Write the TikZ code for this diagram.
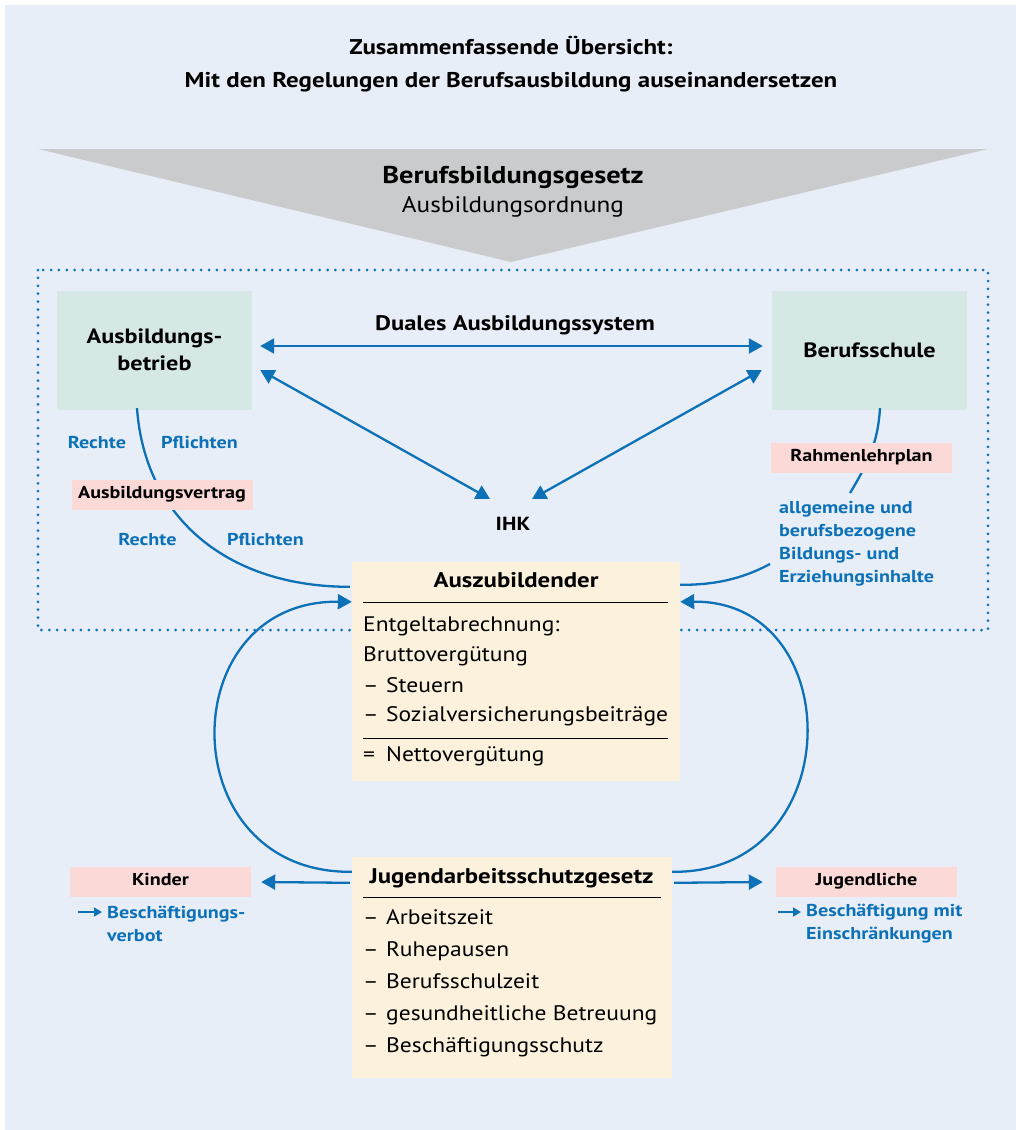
\documentclass[tikz,border=0pt]{standalone}
\usepackage{fontspec}
\setmainfont{PT Sans}[UprightFeatures={FakeStretch=1.12}, BoldFeatures={FakeStretch=1.17}]
\usetikzlibrary{arrows.meta}
\definecolor{bg}{HTML}{E8EEF8}
\definecolor{blu}{HTML}{0C71B7}
\definecolor{pinkbox}{HTML}{FAD9D7}
\definecolor{tealbox}{HTML}{D5E8E6}
\definecolor{creambox}{HTML}{FBF1DC}
\definecolor{funnel}{HTML}{CACBCD}
\begin{document}
\begin{tikzpicture}[x=1pt,y=-1pt,
  conn/.style={draw=blu, line width=2.3pt},
  arr/.style={conn,-{Triangle[length=14pt,width=15pt]}},
  darr/.style={conn,{Triangle[length=14pt,width=15pt]}-{Triangle[length=14pt,width=15pt]}},
  tealnode/.style={fill=tealbox, minimum width=195pt, minimum height=119pt, inner sep=0pt, align=center, font=\fontsize{20.7}{27}\selectfont\bfseries},
  pinknode/.style={fill=pinkbox, minimum width=181pt, minimum height=30pt, inner sep=0pt, text height=0.7em, text depth=0pt, font=\fontsize{17.2}{20}\selectfont\bfseries},
  creamnode/.style={fill=creambox, inner sep=0pt},
  bluelabel/.style={text=blu, font=\fontsize{17.2}{23}\selectfont\bfseries, inner sep=0pt, text height=0.7em, text depth=0pt},
  bluetext/.style={text=blu, font=\fontsize{17.2}{23}\selectfont\bfseries, inner sep=0pt, align=left, anchor=west},
  body/.style={font=\fontsize{21}{24}\selectfont, inner sep=0pt, anchor=west, text height=0.7em, text depth=0pt},
  boxtitle/.style={font=\fontsize{21.2}{24}\selectfont\bfseries, inner sep=0pt, text height=0.7em, text depth=0pt},
  rulestyle/.style={draw=black, line width=1pt},
  smallarr/.style={draw=blu, line width=1.6pt, -{Triangle[length=8pt,width=9pt]}},
  ]
\useasboundingbox (0,0) rectangle (1016,1130);
\fill[bg] (5,5) rectangle (1016,1130);

% title
\node[font=\fontsize{21.3}{33}\selectfont\bfseries, align=center] (title) at (511,64)
  {Zusammenfassende Übersicht:\\Mit den Regelungen der Berufsausbildung auseinandersetzen};

% funnel
\fill[funnel] (38,149) -- (988,149) -- (511,262) -- cycle;
\node[font=\fontsize{24.3}{26}\selectfont\bfseries, inner sep=0pt, text height=0.7em, text depth=0pt] (bbig) at (513,180) {Berufsbildungsgesetz};
\node[font=\fontsize{22.5}{26}\selectfont, inner sep=0pt, text height=0.7em, text depth=0pt] (ao) at (513,209) {Ausbildungsordnung};

% dotted frame
\draw[blu, line width=3pt, line cap=round, dash pattern=on 0pt off 7.9pt] (38,270) rectangle (988,630);

% main boxes
\node[tealnode] (betrieb) at (154.5,350) {Ausbildungs-\\betrieb};
\node[tealnode] (schule) at (869.5,350) {Berufsschule};
\node[boxtitle, font=\fontsize{19}{24}\selectfont\bfseries] (ihk) at (513,527) {IHK};

% Auszubildender box
\node[creamnode, minimum width=328pt, minimum height=219pt] (azubi) at (516,671.5) {};
% Jugendarbeitsschutzgesetz box
\node[creamnode, minimum width=320pt, minimum height=221pt] (jug) at (512,967.5) {};

% connectors top
\node[boxtitle, font=\fontsize{21}{24}\selectfont\bfseries] (duales) at (515,327) {Duales Ausbildungssystem};
\draw[darr] ([shift={(8,-4)}]betrieb.east) -- ([shift={(-9,-4)}]schule.west);
\draw[darr] ([shift={(8,20)}]betrieb.east) -- ([shift={(-23,-28)}]ihk.center);
\draw[darr] ([shift={(-10,20)}]schule.west) -- ([shift={(19,-28)}]ihk.center);

% Ausbildungsvertrag
\draw[conn] ([shift={(-17.5,-1.5)}]betrieb.south) .. controls (145,520) and (230,587) .. ([shift={(-2,25)}]azubi.north west);
\node[pinknode] (vertrag) at (162,494.5) {Ausbildungsvertrag};
\node[bluelabel] (r1) at (97,445) {Rechte};
\node[bluelabel] (p1) at (199.5,445) {Pflichten};
\node[bluelabel] (r2) at (147.5,542) {Rechte};
\node[bluelabel] (p2) at (265.5,542) {Pflichten};

% Rahmenlehrplan
\coordinate (rlpend) at (850,493);
\draw[conn] ([shift={(10.5,-1.5)}]schule.south) .. controls (878,440) and (870,460) .. (rlpend);
\node[pinknode] (rlp) at (861.5,458) {Rahmenlehrplan};
\node[bluetext] (inhalte) at (779,543.5) {allgemeine und\\berufsbezogene\\Bildungs- und\\Erziehungsinhalte};
\coordinate (inhend) at (770,564);
\draw[conn] (inhend) .. controls (740,580) and (712,585) .. ([shift={(0,23)}]azubi.north east);

% Auszubildender contents
\node[boxtitle] (azt) at (516,584) {Auszubildender};
\draw[rulestyle] (363,602) -- (668,602);
\node[body] (a1) at (363,628) {Entgeltabrechnung:};
\node[body] (a2) at (363,658) {Bruttovergütung};
\node[body] (a3d) at (363,689) {–};
\node[body] (a3) at (386,689) {Steuern};
\node[body] (a4d) at (363,718) {–};
\node[body] (a4) at (386,718) {Sozialversicherungsbeiträge};
\draw[rulestyle] (363,738) -- (668,738);
\node[body] (a5d) at (363,758) {=};
\node[body] (a5) at (386,758) {Nettovergütung};

% loops
\draw[arr] ([shift={(0,15)}]jug.north west) .. controls (171,874) and (171,600) .. ([shift={(0,40)}]azubi.north west);
\draw[arr] ([shift={(0,15)}]jug.north east) .. controls (849,874) and (849,600) .. ([shift={(0,40)}]azubi.north east);

% Jugendarbeitsschutzgesetz contents
\node[boxtitle] (jt) at (511.5,880) {Jugendarbeitsschutzgesetz};
\draw[rulestyle] (363,897) -- (661,897);
\foreach \yy/\tt [count=\i] in {921/Arbeitszeit, 953/Ruhepausen, 985/Berufsschulzeit, 1017/gesundheitliche Betreuung, 1049/Beschäftigungsschutz}{
  \node[body] (jd\i) at (363,\yy) {–};
  \node[body] (ji\i) at (386,\yy) {\tt};
}

% Kinder / Jugendliche
\node[pinknode] (kinder) at (160.5,882) {Kinder};
\node[pinknode] (jugendl) at (866.5,882) {Jugendliche};
\draw[arr] ([shift={(-2,26)}]jug.north west) -- ([shift={(10,0)}]kinder.east);
\draw[arr] ([shift={(2,26)}]jug.north east) -- ([shift={(-13,0)}]jugendl.west);

\coordinate (ka1) at (78,912);
\coordinate (ka2) at (102,912);
\draw[smallarr] (ka1) -- (ka2);
\node[bluetext] (kt) at (107,924) {Beschäftigungs-\\verbot};
\coordinate (ja1) at (778,912);
\coordinate (ja2) at (801,912);
\draw[smallarr] (ja1) -- (ja2);
\node[bluetext] (jtx) at (806,924) {Beschäftigung mit\\Einschränkungen};
\end{tikzpicture}
\end{document}
